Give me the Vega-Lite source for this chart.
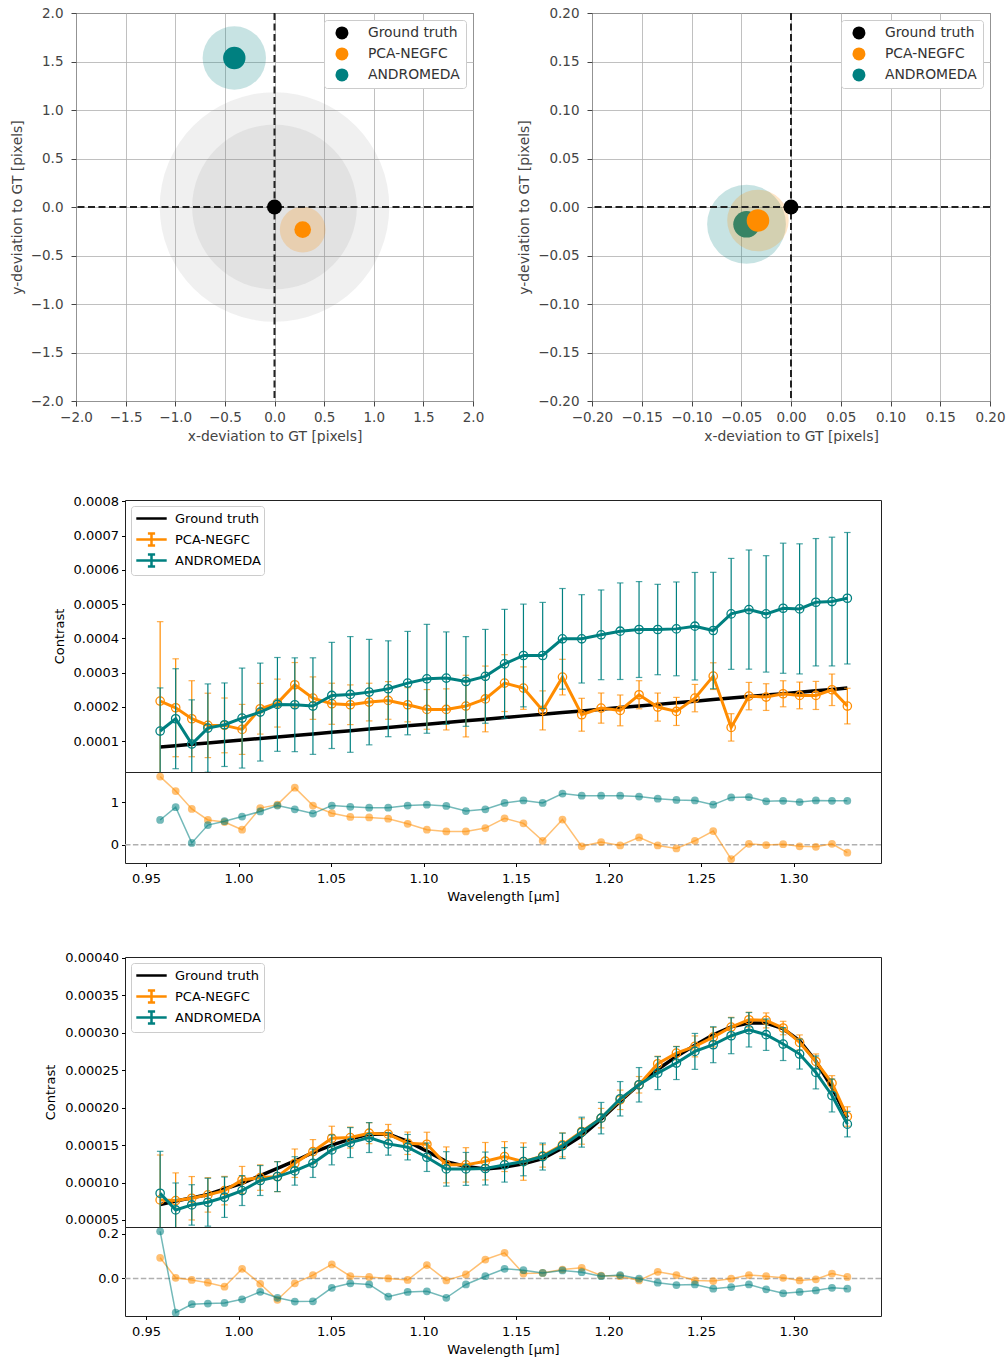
{
"$schema": "https://vega.github.io/schema/vega-lite/v6.json",
"padding": {"left": 6, "top": 5, "right": 0, "bottom": 0},
"background": "white",
"config": {
  "font": "DejaVu Sans",
  "axis": {"labelFont": "DejaVu Sans", "titleFont": "DejaVu Sans", "titleFontWeight": "normal", "domain": false, "grid": false, "tickSize": 3.5, "labelColor": "black", "titleColor": "black", "tickColor": "black", "labelFlush": false, "labelOverlap": false, "labelFontSize": 13, "titleFontSize": 13},
  "legend": {"labelFont": "DejaVu Sans"},
  "view": {"stroke": "#222"}
},
"datasets": {
  "keys": [{"method": "Ground truth"}, {"method": "PCA-NEGFC"}, {"method": "ANDROMEDA"}],
  "zero": [{"dx": 0, "dy": 0, "z": 0}],
  "gtDot": [{"method": "Ground truth", "dx": 0, "dy": 0}],
  "gtCircles": [{"dx": 0, "dy": 0, "r": 1.17}, {"dx": 0, "dy": 0, "r": 0.84}],
  "locWide": [
    {"method": "ANDROMEDA", "kind": "outer", "dx": -0.405, "dy": 1.536, "r": 0.323},
    {"method": "ANDROMEDA", "kind": "inner", "dx": -0.405, "dy": 1.536, "r": 0.114},
    {"method": "PCA-NEGFC", "kind": "outer", "dx": 0.284, "dy": -0.233, "r": 0.233},
    {"method": "PCA-NEGFC", "kind": "inner", "dx": 0.284, "dy": -0.233, "r": 0.085}
  ],
  "locZoom": [
    {"method": "ANDROMEDA", "kind": "outer", "dx": -0.0447, "dy": -0.0178, "r": 0.0401},
    {"method": "ANDROMEDA", "kind": "inner", "dx": -0.0447, "dy": -0.0178, "r": 0.0135},
    {"method": "PCA-NEGFC", "kind": "outer", "dx": -0.0332, "dy": -0.0139, "r": 0.0313},
    {"method": "PCA-NEGFC", "kind": "inner", "dx": -0.0332, "dy": -0.0139, "r": 0.0115}
  ],
  "lin": [
{"lam":0.9576,"gt":0.825e-4,"pca":2.167e-4,"pcaErr":2.32e-4,"andr":1.292e-4,"andrErr":1.26e-4,"rPca":1.60,"rAndr":0.58},
{"lam":0.9660,"gt":0.864e-4,"pca":1.972e-4,"pcaErr":1.43e-4,"andr":1.652e-4,"andrErr":1.46e-4,"rPca":1.26,"rAndr":0.88},
{"lam":0.9747,"gt":0.904e-4,"pca":1.652e-4,"pcaErr":1.11e-4,"andr":0.913e-4,"andrErr":1.29e-4,"rPca":0.84,"rAndr":0.04},
{"lam":0.9834,"gt":0.945e-4,"pca":1.457e-4,"pcaErr":0.94e-4,"andr":1.379e-4,"andrErr":1.29e-4,"rPca":0.58,"rAndr":0.46},
{"lam":0.9924,"gt":0.986e-4,"pca":1.457e-4,"pcaErr":0.80e-4,"andr":1.477e-4,"andrErr":1.22e-4,"rPca":0.53,"rAndr":0.55},
{"lam":1.0019,"gt":1.030e-4,"pca":1.340e-4,"pcaErr":0.73e-4,"andr":1.671e-4,"andrErr":1.46e-4,"rPca":0.35,"rAndr":0.66},
{"lam":1.0117,"gt":1.076e-4,"pca":1.943e-4,"pcaErr":0.74e-4,"andr":1.846e-4,"andrErr":1.43e-4,"rPca":0.86,"rAndr":0.78},
{"lam":1.0210,"gt":1.119e-4,"pca":2.109e-4,"pcaErr":0.70e-4,"andr":2.070e-4,"andrErr":1.37e-4,"rPca":0.94,"rAndr":0.92},
{"lam":1.0304,"gt":1.162e-4,"pca":2.643e-4,"pcaErr":0.65e-4,"andr":2.060e-4,"andrErr":1.37e-4,"rPca":1.34,"rAndr":0.83},
{"lam":1.0402,"gt":1.208e-4,"pca":2.254e-4,"pcaErr":0.62e-4,"andr":2.021e-4,"andrErr":1.41e-4,"rPca":0.92,"rAndr":0.73},
{"lam":1.0504,"gt":1.255e-4,"pca":2.089e-4,"pcaErr":0.60e-4,"andr":2.332e-4,"andrErr":1.55e-4,"rPca":0.74,"rAndr":0.92},
{"lam":1.0604,"gt":1.301e-4,"pca":2.060e-4,"pcaErr":0.58e-4,"andr":2.361e-4,"andrErr":1.69e-4,"rPca":0.65,"rAndr":0.89},
{"lam":1.0706,"gt":1.349e-4,"pca":2.138e-4,"pcaErr":0.55e-4,"andr":2.429e-4,"andrErr":1.54e-4,"rPca":0.64,"rAndr":0.87},
{"lam":1.0809,"gt":1.396e-4,"pca":2.186e-4,"pcaErr":0.55e-4,"andr":2.527e-4,"andrErr":1.40e-4,"rPca":0.61,"rAndr":0.87},
{"lam":1.0914,"gt":1.445e-4,"pca":2.060e-4,"pcaErr":0.50e-4,"andr":2.692e-4,"andrErr":1.51e-4,"rPca":0.49,"rAndr":0.92},
{"lam":1.1018,"gt":1.493e-4,"pca":1.924e-4,"pcaErr":0.58e-4,"andr":2.818e-4,"andrErr":1.59e-4,"rPca":0.35,"rAndr":0.94},
{"lam":1.1123,"gt":1.542e-4,"pca":1.924e-4,"pcaErr":0.60e-4,"andr":2.838e-4,"andrErr":1.35e-4,"rPca":0.31,"rAndr":0.91},
{"lam":1.1229,"gt":1.591e-4,"pca":2.021e-4,"pcaErr":0.90e-4,"andr":2.740e-4,"andrErr":1.31e-4,"rPca":0.31,"rAndr":0.79},
{"lam":1.1334,"gt":1.640e-4,"pca":2.230e-4,"pcaErr":0.96e-4,"andr":2.890e-4,"andrErr":1.37e-4,"rPca":0.39,"rAndr":0.83},
{"lam":1.1438,"gt":1.688e-4,"pca":2.692e-4,"pcaErr":0.83e-4,"andr":3.256e-4,"andrErr":1.59e-4,"rPca":0.62,"rAndr":0.98},
{"lam":1.1540,"gt":1.735e-4,"pca":2.546e-4,"pcaErr":0.62e-4,"andr":3.499e-4,"andrErr":1.50e-4,"rPca":0.50,"rAndr":1.04},
{"lam":1.1644,"gt":1.783e-4,"pca":1.895e-4,"pcaErr":0.57e-4,"andr":3.499e-4,"andrErr":1.55e-4,"rPca":0.09,"rAndr":0.98},
{"lam":1.1751,"gt":1.833e-4,"pca":2.867e-4,"pcaErr":0.52e-4,"andr":3.985e-4,"andrErr":1.47e-4,"rPca":0.59,"rAndr":1.20},
{"lam":1.1855,"gt":1.881e-4,"pca":1.768e-4,"pcaErr":0.48e-4,"andr":3.985e-4,"andrErr":1.29e-4,"rPca":-0.04,"rAndr":1.15},
{"lam":1.1960,"gt":1.930e-4,"pca":1.963e-4,"pcaErr":0.44e-4,"andr":4.102e-4,"andrErr":1.31e-4,"rPca":0.06,"rAndr":1.15},
{"lam":1.2063,"gt":1.977e-4,"pca":1.895e-4,"pcaErr":0.45e-4,"andr":4.208e-4,"andrErr":1.41e-4,"rPca":-0.02,"rAndr":1.15},
{"lam":1.2165,"gt":2.025e-4,"pca":2.352e-4,"pcaErr":0.41e-4,"andr":4.257e-4,"andrErr":1.40e-4,"rPca":0.17,"rAndr":1.13},
{"lam":1.2266,"gt":2.071e-4,"pca":1.992e-4,"pcaErr":0.41e-4,"andr":4.257e-4,"andrErr":1.32e-4,"rPca":-0.02,"rAndr":1.08},
{"lam":1.2367,"gt":2.118e-4,"pca":1.865e-4,"pcaErr":0.41e-4,"andr":4.276e-4,"andrErr":1.37e-4,"rPca":-0.09,"rAndr":1.05},
{"lam":1.2467,"gt":2.164e-4,"pca":2.254e-4,"pcaErr":0.40e-4,"andr":4.354e-4,"andrErr":1.57e-4,"rPca":0.09,"rAndr":1.04},
{"lam":1.2566,"gt":2.210e-4,"pca":2.896e-4,"pcaErr":0.39e-4,"andr":4.228e-4,"andrErr":1.70e-4,"rPca":0.32,"rAndr":0.94},
{"lam":1.2663,"gt":2.255e-4,"pca":1.399e-4,"pcaErr":0.40e-4,"andr":4.714e-4,"andrErr":1.62e-4,"rPca":-0.34,"rAndr":1.11},
{"lam":1.2759,"gt":2.300e-4,"pca":2.312e-4,"pcaErr":0.40e-4,"andr":4.840e-4,"andrErr":1.74e-4,"rPca":0.02,"rAndr":1.12},
{"lam":1.2852,"gt":2.343e-4,"pca":2.284e-4,"pcaErr":0.39e-4,"andr":4.714e-4,"andrErr":1.70e-4,"rPca":-0.01,"rAndr":1.02},
{"lam":1.2944,"gt":2.385e-4,"pca":2.381e-4,"pcaErr":0.38e-4,"andr":4.879e-4,"andrErr":1.90e-4,"rPca":0.01,"rAndr":1.03},
{"lam":1.3033,"gt":2.427e-4,"pca":2.332e-4,"pcaErr":0.39e-4,"andr":4.860e-4,"andrErr":1.90e-4,"rPca":-0.04,"rAndr":1.00},
{"lam":1.3121,"gt":2.467e-4,"pca":2.332e-4,"pcaErr":0.41e-4,"andr":5.054e-4,"andrErr":1.86e-4,"rPca":-0.05,"rAndr":1.04},
{"lam":1.3208,"gt":2.508e-4,"pca":2.497e-4,"pcaErr":0.46e-4,"andr":5.074e-4,"andrErr":1.88e-4,"rPca":0.02,"rAndr":1.03},
{"lam":1.3291,"gt":2.546e-4,"pca":2.021e-4,"pcaErr":0.52e-4,"andr":5.171e-4,"andrErr":1.92e-4,"rPca":-0.19,"rAndr":1.03}
  ],
  "bb": [
{"lam":0.9576,"gt":0.705e-4,"pca":0.768e-4,"pcaErr":0.60e-4,"andr":0.857e-4,"andrErr":0.56e-4,"rPca":0.093,"rAndr":0.212},
{"lam":0.9660,"gt":0.753e-4,"pca":0.759e-4,"pcaErr":0.37e-4,"andr":0.634e-4,"andrErr":0.36e-4,"rPca":0.003,"rAndr":-0.154},
{"lam":0.9747,"gt":0.795e-4,"pca":0.790e-4,"pcaErr":0.29e-4,"andr":0.701e-4,"andrErr":0.27e-4,"rPca":-0.007,"rAndr":-0.116},
{"lam":0.9834,"gt":0.840e-4,"pca":0.835e-4,"pcaErr":0.23e-4,"andr":0.737e-4,"andrErr":0.32e-4,"rPca":-0.019,"rAndr":-0.113},
{"lam":0.9924,"gt":0.915e-4,"pca":0.892e-4,"pcaErr":0.19e-4,"andr":0.804e-4,"andrErr":0.27e-4,"rPca":-0.037,"rAndr":-0.110},
{"lam":1.0019,"gt":0.990e-4,"pca":1.035e-4,"pcaErr":0.18e-4,"andr":0.893e-4,"andrErr":0.20e-4,"rPca":0.043,"rAndr":-0.094},
{"lam":1.0117,"gt":1.092e-4,"pca":1.066e-4,"pcaErr":0.17e-4,"andr":1.027e-4,"andrErr":0.20e-4,"rPca":-0.024,"rAndr":-0.060},
{"lam":1.0210,"gt":1.190e-4,"pca":1.079e-4,"pcaErr":0.20e-4,"andr":1.079e-4,"andrErr":0.20e-4,"rPca":-0.096,"rAndr":-0.087},
{"lam":1.0304,"gt":1.288e-4,"pca":1.258e-4,"pcaErr":0.19e-4,"andr":1.155e-4,"andrErr":0.19e-4,"rPca":-0.022,"rAndr":-0.104},
{"lam":1.0402,"gt":1.400e-4,"pca":1.414e-4,"pcaErr":0.16e-4,"andr":1.258e-4,"andrErr":0.19e-4,"rPca":0.015,"rAndr":-0.103},
{"lam":1.0504,"gt":1.500e-4,"pca":1.592e-4,"pcaErr":0.16e-4,"andr":1.436e-4,"andrErr":0.20e-4,"rPca":0.063,"rAndr":-0.042},
{"lam":1.0604,"gt":1.580e-4,"pca":1.601e-4,"pcaErr":0.14e-4,"andr":1.534e-4,"andrErr":0.20e-4,"rPca":0.010,"rAndr":-0.022},
{"lam":1.0706,"gt":1.646e-4,"pca":1.659e-4,"pcaErr":0.14e-4,"andr":1.601e-4,"andrErr":0.20e-4,"rPca":0.007,"rAndr":-0.027},
{"lam":1.0809,"gt":1.648e-4,"pca":1.646e-4,"pcaErr":0.13e-4,"andr":1.516e-4,"andrErr":0.15e-4,"rPca":0.000,"rAndr":-0.082},
{"lam":1.0914,"gt":1.550e-4,"pca":1.525e-4,"pcaErr":0.15e-4,"andr":1.472e-4,"andrErr":0.17e-4,"rPca":-0.007,"rAndr":-0.061},
{"lam":1.1018,"gt":1.420e-4,"pca":1.512e-4,"pcaErr":0.16e-4,"andr":1.338e-4,"andrErr":0.19e-4,"rPca":0.060,"rAndr":-0.058},
{"lam":1.1123,"gt":1.280e-4,"pca":1.236e-4,"pcaErr":0.24e-4,"andr":1.182e-4,"andrErr":0.23e-4,"rPca":-0.009,"rAndr":-0.087},
{"lam":1.1229,"gt":1.215e-4,"pca":1.236e-4,"pcaErr":0.23e-4,"andr":1.182e-4,"andrErr":0.22e-4,"rPca":0.018,"rAndr":-0.027},
{"lam":1.1334,"gt":1.180e-4,"pca":1.285e-4,"pcaErr":0.25e-4,"andr":1.187e-4,"andrErr":0.22e-4,"rPca":0.085,"rAndr":0.010},
{"lam":1.1438,"gt":1.205e-4,"pca":1.347e-4,"pcaErr":0.20e-4,"andr":1.236e-4,"andrErr":0.23e-4,"rPca":0.115,"rAndr":0.043},
{"lam":1.1540,"gt":1.250e-4,"pca":1.280e-4,"pcaErr":0.25e-4,"andr":1.280e-4,"andrErr":0.19e-4,"rPca":0.022,"rAndr":0.037},
{"lam":1.1644,"gt":1.320e-4,"pca":1.356e-4,"pcaErr":0.15e-4,"andr":1.347e-4,"andrErr":0.18e-4,"rPca":0.025,"rAndr":0.025},
{"lam":1.1751,"gt":1.460e-4,"pca":1.503e-4,"pcaErr":0.16e-4,"andr":1.490e-4,"andrErr":0.17e-4,"rPca":0.040,"rAndr":0.036},
{"lam":1.1855,"gt":1.625e-4,"pca":1.682e-4,"pcaErr":0.17e-4,"andr":1.673e-4,"andrErr":0.20e-4,"rPca":0.048,"rAndr":0.028},
{"lam":1.1960,"gt":1.845e-4,"pca":1.860e-4,"pcaErr":0.13e-4,"andr":1.860e-4,"andrErr":0.21e-4,"rPca":0.013,"rAndr":0.010},
{"lam":1.2063,"gt":2.085e-4,"pca":2.105e-4,"pcaErr":0.13e-4,"andr":2.119e-4,"andrErr":0.23e-4,"rPca":0.010,"rAndr":0.015},
{"lam":1.2165,"gt":2.310e-4,"pca":2.306e-4,"pcaErr":0.11e-4,"andr":2.306e-4,"andrErr":0.23e-4,"rPca":-0.009,"rAndr":-0.001},
{"lam":1.2266,"gt":2.510e-4,"pca":2.587e-4,"pcaErr":0.10e-4,"andr":2.462e-4,"andrErr":0.22e-4,"rPca":0.030,"rAndr":-0.019},
{"lam":1.2367,"gt":2.685e-4,"pca":2.729e-4,"pcaErr":0.09e-4,"andr":2.596e-4,"andrErr":0.22e-4,"rPca":0.015,"rAndr":-0.030},
{"lam":1.2467,"gt":2.835e-4,"pca":2.819e-4,"pcaErr":0.14e-4,"andr":2.752e-4,"andrErr":0.24e-4,"rPca":-0.009,"rAndr":-0.027},
{"lam":1.2566,"gt":2.975e-4,"pca":2.943e-4,"pcaErr":0.13e-4,"andr":2.841e-4,"andrErr":0.24e-4,"rPca":-0.012,"rAndr":-0.046},
{"lam":1.2663,"gt":3.080e-4,"pca":3.077e-4,"pcaErr":0.13e-4,"andr":2.961e-4,"andrErr":0.24e-4,"rPca":-0.001,"rAndr":-0.039},
{"lam":1.2759,"gt":3.130e-4,"pca":3.175e-4,"pcaErr":0.10e-4,"andr":3.041e-4,"andrErr":0.23e-4,"rPca":0.015,"rAndr":-0.027},
{"lam":1.2852,"gt":3.130e-4,"pca":3.166e-4,"pcaErr":0.10e-4,"andr":2.975e-4,"andrErr":0.21e-4,"rPca":0.010,"rAndr":-0.049},
{"lam":1.2944,"gt":3.055e-4,"pca":3.064e-4,"pcaErr":0.09e-4,"andr":2.850e-4,"andrErr":0.22e-4,"rPca":0.003,"rAndr":-0.067},
{"lam":1.3033,"gt":2.895e-4,"pca":2.872e-4,"pcaErr":0.10e-4,"andr":2.716e-4,"andrErr":0.20e-4,"rPca":-0.009,"rAndr":-0.061},
{"lam":1.3121,"gt":2.620e-4,"pca":2.618e-4,"pcaErr":0.10e-4,"andr":2.471e-4,"andrErr":0.22e-4,"rPca":-0.004,"rAndr":-0.054},
{"lam":1.3208,"gt":2.270e-4,"pca":2.328e-4,"pcaErr":0.10e-4,"andr":2.163e-4,"andrErr":0.22e-4,"rPca":0.022,"rAndr":-0.042},
{"lam":1.3291,"gt":1.867e-4,"pca":1.882e-4,"pcaErr":0.13e-4,"andr":1.780e-4,"andrErr":0.17e-4,"rPca":0.007,"rAndr":-0.046}
  ]
},
"spacing": 50,
"resolve": {"scale": {"color": "independent", "shape": "independent", "size": "independent", "opacity": "independent"}, "legend": {"color": "independent", "shape": "independent", "size": "independent", "opacity": "independent"}},
"vconcat": [
 {"resolve": {"scale": {"color": "independent", "shape": "independent", "size": "independent", "opacity": "independent"}, "legend": {"color": "independent", "shape": "independent", "size": "independent", "opacity": "independent"}},
  "hconcat": [
   {"width": 70, "height": 1, "view": {"stroke": null}, "data": {"values": []}, "mark": "point"},
   {"resolve": {"scale": {"color": "independent", "shape": "independent", "size": "independent", "opacity": "independent"}, "legend": {"color": "independent", "shape": "independent", "size": "independent", "opacity": "independent"}},
    "hconcat": [
     {"width": 397, "height": 388, "view": {"stroke": "#222"},
      "layer": [
        {"data": {"name": "gtCircles"},
         "mark": {"type": "point", "filled": true, "shape": "circle", "color": "#808080", "opacity": 0.12, "strokeWidth": 0},
         "encoding": {
           "x": {"field": "dx", "type": "quantitative", "title": "x-deviation to GT [pixels]", "scale": {"domain": [-2, 2], "nice": false, "zero": false},
                 "axis": {"values": [-2, -1.5, -1, -0.5, 0, 0.5, 1, 1.5, 2], "tickCount": 12, "format": ".1f", "title": "x-deviation to GT [pixels]", "grid": true, "gridColor": "#b0b0b0", "gridWidth": 0.8, "tickSize": 5, "labelPadding": 4, "titlePadding": 6, "labelFontSize": 13.5, "titleFontSize": 13.9, "labelColor": "#444", "titleColor": "#444", "tickColor": "#444", "labelOverlap": false}},
           "y": {"field": "dy", "type": "quantitative", "title": "y-deviation to GT [pixels]", "scale": {"domain": [-2, 2], "nice": false, "zero": false},
                 "axis": {"values": [-2, -1.5, -1, -0.5, 0, 0.5, 1, 1.5, 2], "tickCount": 12, "format": ".1f", "title": "y-deviation to GT [pixels]", "grid": true, "gridColor": "#b0b0b0", "gridWidth": 0.8, "tickSize": 5, "labelPadding": 8, "titlePadding": 6, "labelFontSize": 13.5, "titleFontSize": 13.9, "labelColor": "#444", "titleColor": "#444", "tickColor": "#444", "labelOverlap": false}},
           "size": {"field": "r", "type": "quantitative", "scale": {"type": "pow", "exponent": 2, "domain": [0, 1], "range": [0, 38494]}, "legend": null}}},
        {"data": {"name": "locWide"},
         "mark": {"type": "point", "filled": true, "shape": "circle", "strokeWidth": 0},
         "encoding": {
           "x": {"field": "dx", "type": "quantitative", "title": "x-deviation to GT [pixels]", "scale": {"domain": [-2, 2], "nice": false, "zero": false}},
           "y": {"field": "dy", "type": "quantitative", "title": "y-deviation to GT [pixels]", "scale": {"domain": [-2, 2], "nice": false, "zero": false}},
           "size": {"field": "r", "type": "quantitative", "scale": {"type": "pow", "exponent": 2, "domain": [0, 1], "range": [0, 38494]}, "legend": null},
           "opacity": {"field": "kind", "type": "nominal", "scale": {"type": "ordinal", "domain": ["outer", "inner"], "range": [0.22, 1]}, "legend": null},
           "color": {"field": "method", "type": "nominal", "scale": {"domain": ["Ground truth", "PCA-NEGFC", "ANDROMEDA"], "range": ["#000000", "#ff8c00", "#008080"]},
                     "legend": {"title": null, "orient": "top-right", "offset": 7, "padding": 6, "symbolType": "circle", "symbolSize": 169, "symbolOpacity": 1, "symbolStrokeWidth": 0, "symbolOffset": 5, "labelOffset": 19, "labelFontSize": 13.9, "labelColor": "#333", "rowPadding": 6, "strokeColor": "#cccccc", "fillColor": "#ffffff", "cornerRadius": 3}}}},
        {"data": {"name": "zero"}, "mark": {"type": "rule", "color": "#222", "strokeWidth": 2, "strokeDash": [7, 3.5]},
         "encoding": {"x": {"field": "dx", "type": "quantitative", "title": "x-deviation to GT [pixels]", "scale": {"domain": [-2, 2], "nice": false, "zero": false}}}},
        {"data": {"name": "zero"}, "mark": {"type": "rule", "color": "#222", "strokeWidth": 2, "strokeDash": [7, 3.5]},
         "encoding": {"y": {"field": "dy", "type": "quantitative", "title": "y-deviation to GT [pixels]", "scale": {"domain": [-2, 2], "nice": false, "zero": false}}}},
        {"data": {"name": "gtDot"},
         "mark": {"type": "point", "filled": true, "shape": "circle", "size": 225, "opacity": 1, "strokeWidth": 0},
         "encoding": {
           "x": {"field": "dx", "type": "quantitative", "title": "x-deviation to GT [pixels]", "scale": {"domain": [-2, 2], "nice": false, "zero": false}},
           "y": {"field": "dy", "type": "quantitative", "title": "y-deviation to GT [pixels]", "scale": {"domain": [-2, 2], "nice": false, "zero": false}},
           "color": {"field": "method", "type": "nominal", "scale": {"domain": ["Ground truth", "PCA-NEGFC", "ANDROMEDA"], "range": ["#000000", "#ff8c00", "#008080"]},
                     "legend": {"title": null, "orient": "top-right", "offset": 7, "padding": 6, "symbolType": "circle", "symbolSize": 169, "symbolOpacity": 1, "symbolStrokeWidth": 0, "symbolOffset": 5, "labelOffset": 19, "labelFontSize": 13.9, "labelColor": "#333", "rowPadding": 6, "strokeColor": "#cccccc", "fillColor": "#ffffff", "cornerRadius": 3}}}}
      ]},
     {"width": 398, "height": 388, "view": {"stroke": "#222"},
      "layer": [
        {"data": {"name": "locZoom"},
         "mark": {"type": "point", "filled": true, "shape": "circle", "strokeWidth": 0},
         "encoding": {
           "x": {"field": "dx", "type": "quantitative", "title": "x-deviation to GT [pixels]", "scale": {"domain": [-0.2, 0.2], "nice": false, "zero": false},
                 "axis": {"values": [-0.2, -0.15, -0.1, -0.05, 0, 0.05, 0.1, 0.15, 0.2], "tickCount": 12, "format": ".2f", "title": "x-deviation to GT [pixels]", "grid": true, "gridColor": "#b0b0b0", "gridWidth": 0.8, "tickSize": 5, "labelPadding": 4, "titlePadding": 6, "labelFontSize": 13.5, "titleFontSize": 13.9, "labelColor": "#444", "titleColor": "#444", "tickColor": "#444", "labelOverlap": false}},
           "y": {"field": "dy", "type": "quantitative", "title": "y-deviation to GT [pixels]", "scale": {"domain": [-0.2, 0.2], "nice": false, "zero": false},
                 "axis": {"values": [-0.2, -0.15, -0.1, -0.05, 0, 0.05, 0.1, 0.15, 0.2], "tickCount": 12, "format": ".2f", "title": "y-deviation to GT [pixels]", "grid": true, "gridColor": "#b0b0b0", "gridWidth": 0.8, "tickSize": 5, "labelPadding": 8, "titlePadding": 6, "labelFontSize": 13.5, "titleFontSize": 13.9, "labelColor": "#444", "titleColor": "#444", "tickColor": "#444", "labelOverlap": false}},
           "size": {"field": "r", "type": "quantitative", "scale": {"type": "pow", "exponent": 2, "domain": [0, 0.1], "range": [0, 38612]}, "legend": null},
           "opacity": {"field": "kind", "type": "nominal", "scale": {"type": "ordinal", "domain": ["outer", "inner"], "range": [0.22, 1]}, "legend": null},
           "color": {"field": "method", "type": "nominal", "scale": {"domain": ["Ground truth", "PCA-NEGFC", "ANDROMEDA"], "range": ["#000000", "#ff8c00", "#008080"]},
                     "legend": {"title": null, "orient": "top-right", "offset": 7, "padding": 6, "symbolType": "circle", "symbolSize": 169, "symbolOpacity": 1, "symbolStrokeWidth": 0, "symbolOffset": 5, "labelOffset": 19, "labelFontSize": 13.9, "labelColor": "#333", "rowPadding": 6, "strokeColor": "#cccccc", "fillColor": "#ffffff", "cornerRadius": 3}}}},
        {"data": {"name": "zero"}, "mark": {"type": "rule", "color": "#222", "strokeWidth": 2, "strokeDash": [7, 3.5]},
         "encoding": {"x": {"field": "dx", "type": "quantitative", "title": "x-deviation to GT [pixels]", "scale": {"domain": [-0.2, 0.2], "nice": false, "zero": false}}}},
        {"data": {"name": "zero"}, "mark": {"type": "rule", "color": "#222", "strokeWidth": 2, "strokeDash": [7, 3.5]},
         "encoding": {"y": {"field": "dy", "type": "quantitative", "title": "y-deviation to GT [pixels]", "scale": {"domain": [-0.2, 0.2], "nice": false, "zero": false}}}},
        {"data": {"name": "gtDot"},
         "mark": {"type": "point", "filled": true, "shape": "circle", "size": 225, "opacity": 1, "strokeWidth": 0},
         "encoding": {
           "x": {"field": "dx", "type": "quantitative", "title": "x-deviation to GT [pixels]", "scale": {"domain": [-0.2, 0.2], "nice": false, "zero": false}},
           "y": {"field": "dy", "type": "quantitative", "title": "y-deviation to GT [pixels]", "scale": {"domain": [-0.2, 0.2], "nice": false, "zero": false}},
           "color": {"field": "method", "type": "nominal", "scale": {"domain": ["Ground truth", "PCA-NEGFC", "ANDROMEDA"], "range": ["#000000", "#ff8c00", "#008080"]},
                     "legend": {"title": null, "orient": "top-right", "offset": 7, "padding": 6, "symbolType": "circle", "symbolSize": 169, "symbolOpacity": 1, "symbolStrokeWidth": 0, "symbolOffset": 5, "labelOffset": 19, "labelFontSize": 13.9, "labelColor": "#333", "rowPadding": 6, "strokeColor": "#cccccc", "fillColor": "#ffffff", "cornerRadius": 3}}}}
      ]}
   ], "spacing": 119, "bounds": "flush"}
 ], "spacing": 0, "bounds": "flush"},
 {"spacing": 47,
  "resolve": {"scale": {"color": "independent", "shape": "independent", "size": "independent", "opacity": "independent"}, "legend": {"color": "independent", "shape": "independent", "size": "independent", "opacity": "independent"}},
  "vconcat": [
   {"resolve": {"scale": {"color": "independent", "shape": "independent", "size": "independent", "opacity": "independent"}, "legend": {"color": "independent", "shape": "independent", "size": "independent", "opacity": "independent"}},
    "hconcat": [
     {"width": 119, "height": 1, "view": {"stroke": null}, "data": {"values": []}, "mark": "point"},
     {"resolve": {"scale": {"color": "independent", "shape": "independent", "size": "independent", "opacity": "independent"}, "legend": {"color": "independent", "shape": "independent", "size": "independent", "opacity": "independent"}},
      "vconcat": [
       {"width": 756, "height": 272, "view": {"stroke": "#222"},
        "data": {"name": "lin"},
        "encoding": {"x": {"field": "lam", "type": "quantitative", "scale": {"domain": [0.9386, 1.3473], "nice": false, "zero": false}, "axis": null}},
        "layer": [
          {"data": {"name": "keys"},
           "mark": {"type": "point", "filled": false, "opacity": 0},
           "encoding": {
             "color": {"field": "method", "type": "nominal", "scale": {"domain": ["Ground truth", "PCA-NEGFC", "ANDROMEDA"], "range": ["#000000", "#ff8c00", "#008080"]},
                       "legend": {"title": null, "orient": "top-left", "offset": 6, "padding": 3, "symbolSize": 256, "symbolStrokeWidth": 2.5, "symbolOpacity": 1, "symbolOffset": 8, "labelOffset": 14, "labelFontSize": 13, "labelColor": "black", "rowPadding": -5, "strokeColor": "#cccccc", "fillColor": "#ffffff", "cornerRadius": 3}},
             "shape": {"field": "method", "type": "nominal", "scale": {"domain": ["Ground truth", "PCA-NEGFC", "ANDROMEDA"], "range": ["M-1.9,-0.75M-1.9,0.75M-1.9,0H1.9", "M-1.9,0H1.9M0,-0.75V0.75M-0.45,-0.75H0.45M-0.45,0.75H0.45", "M-1.9,0H1.9M0,-0.75V0.75M-0.45,-0.75H0.45M-0.45,0.75H0.45"]},
                       "legend": {"title": null, "orient": "top-left", "offset": 6, "padding": 3, "symbolSize": 256, "symbolStrokeWidth": 2.5, "symbolOpacity": 1, "symbolOffset": 8, "labelOffset": 14, "labelFontSize": 13, "labelColor": "black", "rowPadding": -5, "strokeColor": "#cccccc", "fillColor": "#ffffff", "cornerRadius": 3}}}},
          {"mark": {"type": "line", "strokeWidth": 3.5, "clip": true},
           "encoding": {"y": {"field": "gt", "type": "quantitative", "title": "Contrast", "scale": {"domain": [0.0000096, 0.000804], "nice": false, "zero": false},
                              "axis": {"values": [0.0001, 0.0002, 0.0003, 0.0004, 0.0005, 0.0006, 0.0007, 0.0008], "tickCount": 10, "format": ".4f", "title": "Contrast", "labelPadding": 3, "titlePadding": 7, "labelOverlap": false}},
                        "color": {"datum": "Ground truth", "scale": {"domain": ["Ground truth", "PCA-NEGFC", "ANDROMEDA"], "range": ["#000000", "#ff8c00", "#008080"]}, "legend": null}}},
          {"mark": {"type": "errorbar", "ticks": {"size": 6.5, "thickness": 1.2}, "thickness": 1.2, "clip": true},
           "encoding": {"y": {"field": "pca", "type": "quantitative", "title": "Contrast", "scale": {"domain": [0.0000096, 0.000804], "nice": false, "zero": false}},
                        "yError": {"field": "pcaErr"},
                        "color": {"datum": "PCA-NEGFC", "scale": {"domain": ["Ground truth", "PCA-NEGFC", "ANDROMEDA"], "range": ["#000000", "#ff8c00", "#008080"]}, "legend": null}}},
          {"mark": {"type": "line", "strokeWidth": 3, "clip": true},
           "encoding": {"y": {"field": "pca", "type": "quantitative", "title": "Contrast", "scale": {"domain": [0.0000096, 0.000804], "nice": false, "zero": false}},
                        "color": {"datum": "PCA-NEGFC", "scale": {"domain": ["Ground truth", "PCA-NEGFC", "ANDROMEDA"], "range": ["#000000", "#ff8c00", "#008080"]}, "legend": null}}},
          {"mark": {"type": "point", "filled": false, "size": 70, "strokeWidth": 1.3, "opacity": 1, "clip": true},
           "encoding": {"y": {"field": "pca", "type": "quantitative", "title": "Contrast", "scale": {"domain": [0.0000096, 0.000804], "nice": false, "zero": false}},
                        "color": {"datum": "PCA-NEGFC", "scale": {"domain": ["Ground truth", "PCA-NEGFC", "ANDROMEDA"], "range": ["#000000", "#ff8c00", "#008080"]}, "legend": null}}},
          {"mark": {"type": "errorbar", "ticks": {"size": 6.5, "thickness": 1.2}, "thickness": 1.2, "clip": true},
           "encoding": {"y": {"field": "andr", "type": "quantitative", "title": "Contrast", "scale": {"domain": [0.0000096, 0.000804], "nice": false, "zero": false}},
                        "yError": {"field": "andrErr"},
                        "color": {"datum": "ANDROMEDA", "scale": {"domain": ["Ground truth", "PCA-NEGFC", "ANDROMEDA"], "range": ["#000000", "#ff8c00", "#008080"]}, "legend": null}}},
          {"mark": {"type": "line", "strokeWidth": 3, "clip": true},
           "encoding": {"y": {"field": "andr", "type": "quantitative", "title": "Contrast", "scale": {"domain": [0.0000096, 0.000804], "nice": false, "zero": false}},
                        "color": {"datum": "ANDROMEDA", "scale": {"domain": ["Ground truth", "PCA-NEGFC", "ANDROMEDA"], "range": ["#000000", "#ff8c00", "#008080"]}, "legend": null}}},
          {"mark": {"type": "point", "filled": false, "size": 70, "strokeWidth": 1.3, "opacity": 1, "clip": true},
           "encoding": {"y": {"field": "andr", "type": "quantitative", "title": "Contrast", "scale": {"domain": [0.0000096, 0.000804], "nice": false, "zero": false}},
                        "color": {"datum": "ANDROMEDA", "scale": {"domain": ["Ground truth", "PCA-NEGFC", "ANDROMEDA"], "range": ["#000000", "#ff8c00", "#008080"]}, "legend": null}}}
        ]},
       {"width": 756, "height": 91, "view": {"stroke": "#222"},
        "data": {"name": "lin"},
        "layer": [
          {"data": {"name": "zero"}, "mark": {"type": "rule", "color": "#b0b0b0", "strokeWidth": 1.5, "strokeDash": [5.5, 2.4]},
           "encoding": {"y": {"field": "z", "type": "quantitative", "title": null, "scale": {"domain": [-0.432, 1.708], "nice": false, "zero": false}}}},
          {"mark": {"type": "line", "strokeWidth": 1.5, "opacity": 0.55},
           "encoding": {"x": {"field": "lam", "type": "quantitative", "title": "Wavelength [μm]", "scale": {"domain": [0.9386, 1.3473], "nice": false, "zero": false},
                              "axis": {"values": [0.95, 1.0, 1.05, 1.1, 1.15, 1.2, 1.25, 1.3], "tickCount": 20, "format": ".2f", "title": "Wavelength [μm]", "labelPadding": 6, "titlePadding": 5, "labelOverlap": false}},
                        "y": {"field": "rPca", "type": "quantitative", "title": null, "scale": {"domain": [-0.432, 1.708], "nice": false, "zero": false},
                              "axis": {"values": [0, 1], "tickCount": 5, "format": ".0f", "title": null, "labelPadding": 3, "labelOverlap": false}},
                        "color": {"datum": "PCA-NEGFC", "scale": {"domain": ["PCA-NEGFC", "ANDROMEDA"], "range": ["#ff8c00", "#008080"]}, "legend": null}}},
          {"mark": {"type": "point", "filled": true, "size": 60, "opacity": 0.55},
           "encoding": {"x": {"field": "lam", "type": "quantitative", "title": "Wavelength [μm]", "scale": {"domain": [0.9386, 1.3473], "nice": false, "zero": false}},
                        "y": {"field": "rPca", "type": "quantitative", "title": null, "scale": {"domain": [-0.432, 1.708], "nice": false, "zero": false}},
                        "color": {"datum": "PCA-NEGFC", "scale": {"domain": ["PCA-NEGFC", "ANDROMEDA"], "range": ["#ff8c00", "#008080"]}, "legend": null}}},
          {"mark": {"type": "line", "strokeWidth": 1.5, "opacity": 0.55},
           "encoding": {"x": {"field": "lam", "type": "quantitative", "title": "Wavelength [μm]", "scale": {"domain": [0.9386, 1.3473], "nice": false, "zero": false}},
                        "y": {"field": "rAndr", "type": "quantitative", "title": null, "scale": {"domain": [-0.432, 1.708], "nice": false, "zero": false}},
                        "color": {"datum": "ANDROMEDA", "scale": {"domain": ["PCA-NEGFC", "ANDROMEDA"], "range": ["#ff8c00", "#008080"]}, "legend": null}}},
          {"mark": {"type": "point", "filled": true, "size": 60, "opacity": 0.55},
           "encoding": {"x": {"field": "lam", "type": "quantitative", "title": "Wavelength [μm]", "scale": {"domain": [0.9386, 1.3473], "nice": false, "zero": false}},
                        "y": {"field": "rAndr", "type": "quantitative", "title": null, "scale": {"domain": [-0.432, 1.708], "nice": false, "zero": false}},
                        "color": {"datum": "ANDROMEDA", "scale": {"domain": ["PCA-NEGFC", "ANDROMEDA"], "range": ["#ff8c00", "#008080"]}, "legend": null}}}
        ]}
     ], "spacing": 0, "bounds": "flush"}
   ], "spacing": 0, "bounds": "flush"},
   {"resolve": {"scale": {"color": "independent", "shape": "independent", "size": "independent", "opacity": "independent"}, "legend": {"color": "independent", "shape": "independent", "size": "independent", "opacity": "independent"}},
    "hconcat": [
     {"width": 119, "height": 1, "view": {"stroke": null}, "data": {"values": []}, "mark": "point"},
     {"resolve": {"scale": {"color": "independent", "shape": "independent", "size": "independent", "opacity": "independent"}, "legend": {"color": "independent", "shape": "independent", "size": "independent", "opacity": "independent"}},
      "vconcat": [
       {"width": 756, "height": 270, "view": {"stroke": "#222"},
        "data": {"name": "bb"},
        "encoding": {"x": {"field": "lam", "type": "quantitative", "scale": {"domain": [0.9386, 1.3473], "nice": false, "zero": false}, "axis": null}},
        "layer": [
          {"data": {"name": "keys"},
           "mark": {"type": "point", "filled": false, "opacity": 0},
           "encoding": {
             "color": {"field": "method", "type": "nominal", "scale": {"domain": ["Ground truth", "PCA-NEGFC", "ANDROMEDA"], "range": ["#000000", "#ff8c00", "#008080"]},
                       "legend": {"title": null, "orient": "top-left", "offset": 6, "padding": 3, "symbolSize": 256, "symbolStrokeWidth": 2.5, "symbolOpacity": 1, "symbolOffset": 8, "labelOffset": 14, "labelFontSize": 13, "labelColor": "black", "rowPadding": -5, "strokeColor": "#cccccc", "fillColor": "#ffffff", "cornerRadius": 3}},
             "shape": {"field": "method", "type": "nominal", "scale": {"domain": ["Ground truth", "PCA-NEGFC", "ANDROMEDA"], "range": ["M-1.9,-0.75M-1.9,0.75M-1.9,0H1.9", "M-1.9,0H1.9M0,-0.75V0.75M-0.45,-0.75H0.45M-0.45,0.75H0.45", "M-1.9,0H1.9M0,-0.75V0.75M-0.45,-0.75H0.45M-0.45,0.75H0.45"]},
                       "legend": {"title": null, "orient": "top-left", "offset": 6, "padding": 3, "symbolSize": 256, "symbolStrokeWidth": 2.5, "symbolOpacity": 1, "symbolOffset": 8, "labelOffset": 14, "labelFontSize": 13, "labelColor": "black", "rowPadding": -5, "strokeColor": "#cccccc", "fillColor": "#ffffff", "cornerRadius": 3}}}},
          {"mark": {"type": "line", "strokeWidth": 3.5, "clip": true},
           "encoding": {"y": {"field": "gt", "type": "quantitative", "title": "Contrast", "scale": {"domain": [0.0000406, 0.0004013], "nice": false, "zero": false},
                              "axis": {"values": [0.00005, 0.0001, 0.00015, 0.0002, 0.00025, 0.0003, 0.00035, 0.0004], "tickCount": 10, "format": ".5f", "title": "Contrast", "labelPadding": 3, "titlePadding": 7, "labelOverlap": false}},
                        "color": {"datum": "Ground truth", "scale": {"domain": ["Ground truth", "PCA-NEGFC", "ANDROMEDA"], "range": ["#000000", "#ff8c00", "#008080"]}, "legend": null}}},
          {"mark": {"type": "errorbar", "ticks": {"size": 6.5, "thickness": 1.2}, "thickness": 1.2, "clip": true},
           "encoding": {"y": {"field": "pca", "type": "quantitative", "title": "Contrast", "scale": {"domain": [0.0000406, 0.0004013], "nice": false, "zero": false}},
                        "yError": {"field": "pcaErr"},
                        "color": {"datum": "PCA-NEGFC", "scale": {"domain": ["Ground truth", "PCA-NEGFC", "ANDROMEDA"], "range": ["#000000", "#ff8c00", "#008080"]}, "legend": null}}},
          {"mark": {"type": "line", "strokeWidth": 3, "clip": true},
           "encoding": {"y": {"field": "pca", "type": "quantitative", "title": "Contrast", "scale": {"domain": [0.0000406, 0.0004013], "nice": false, "zero": false}},
                        "color": {"datum": "PCA-NEGFC", "scale": {"domain": ["Ground truth", "PCA-NEGFC", "ANDROMEDA"], "range": ["#000000", "#ff8c00", "#008080"]}, "legend": null}}},
          {"mark": {"type": "point", "filled": false, "size": 70, "strokeWidth": 1.3, "opacity": 1, "clip": true},
           "encoding": {"y": {"field": "pca", "type": "quantitative", "title": "Contrast", "scale": {"domain": [0.0000406, 0.0004013], "nice": false, "zero": false}},
                        "color": {"datum": "PCA-NEGFC", "scale": {"domain": ["Ground truth", "PCA-NEGFC", "ANDROMEDA"], "range": ["#000000", "#ff8c00", "#008080"]}, "legend": null}}},
          {"mark": {"type": "errorbar", "ticks": {"size": 6.5, "thickness": 1.2}, "thickness": 1.2, "clip": true},
           "encoding": {"y": {"field": "andr", "type": "quantitative", "title": "Contrast", "scale": {"domain": [0.0000406, 0.0004013], "nice": false, "zero": false}},
                        "yError": {"field": "andrErr"},
                        "color": {"datum": "ANDROMEDA", "scale": {"domain": ["Ground truth", "PCA-NEGFC", "ANDROMEDA"], "range": ["#000000", "#ff8c00", "#008080"]}, "legend": null}}},
          {"mark": {"type": "line", "strokeWidth": 3, "clip": true},
           "encoding": {"y": {"field": "andr", "type": "quantitative", "title": "Contrast", "scale": {"domain": [0.0000406, 0.0004013], "nice": false, "zero": false}},
                        "color": {"datum": "ANDROMEDA", "scale": {"domain": ["Ground truth", "PCA-NEGFC", "ANDROMEDA"], "range": ["#000000", "#ff8c00", "#008080"]}, "legend": null}}},
          {"mark": {"type": "point", "filled": false, "size": 70, "strokeWidth": 1.3, "opacity": 1, "clip": true},
           "encoding": {"y": {"field": "andr", "type": "quantitative", "title": "Contrast", "scale": {"domain": [0.0000406, 0.0004013], "nice": false, "zero": false}},
                        "color": {"datum": "ANDROMEDA", "scale": {"domain": ["Ground truth", "PCA-NEGFC", "ANDROMEDA"], "range": ["#000000", "#ff8c00", "#008080"]}, "legend": null}}}
        ]},
       {"width": 756, "height": 89, "view": {"stroke": "#222"},
        "data": {"name": "bb"},
        "layer": [
          {"data": {"name": "zero"}, "mark": {"type": "rule", "color": "#b0b0b0", "strokeWidth": 1.5, "strokeDash": [5.5, 2.4]},
           "encoding": {"y": {"field": "z", "type": "quantitative", "title": null, "scale": {"domain": [-0.169, 0.2314], "nice": false, "zero": false}}}},
          {"mark": {"type": "line", "strokeWidth": 1.5, "opacity": 0.55},
           "encoding": {"x": {"field": "lam", "type": "quantitative", "title": "Wavelength [μm]", "scale": {"domain": [0.9386, 1.3473], "nice": false, "zero": false},
                              "axis": {"values": [0.95, 1.0, 1.05, 1.1, 1.15, 1.2, 1.25, 1.3], "tickCount": 20, "format": ".2f", "title": "Wavelength [μm]", "labelPadding": 6, "titlePadding": 5, "labelOverlap": false}},
                        "y": {"field": "rPca", "type": "quantitative", "title": null, "scale": {"domain": [-0.169, 0.2314], "nice": false, "zero": false},
                              "axis": {"values": [0, 0.2], "tickCount": 5, "format": ".1f", "title": null, "labelPadding": 3, "labelOverlap": false}},
                        "color": {"datum": "PCA-NEGFC", "scale": {"domain": ["PCA-NEGFC", "ANDROMEDA"], "range": ["#ff8c00", "#008080"]}, "legend": null}}},
          {"mark": {"type": "point", "filled": true, "size": 60, "opacity": 0.55},
           "encoding": {"x": {"field": "lam", "type": "quantitative", "title": "Wavelength [μm]", "scale": {"domain": [0.9386, 1.3473], "nice": false, "zero": false}},
                        "y": {"field": "rPca", "type": "quantitative", "title": null, "scale": {"domain": [-0.169, 0.2314], "nice": false, "zero": false}},
                        "color": {"datum": "PCA-NEGFC", "scale": {"domain": ["PCA-NEGFC", "ANDROMEDA"], "range": ["#ff8c00", "#008080"]}, "legend": null}}},
          {"mark": {"type": "line", "strokeWidth": 1.5, "opacity": 0.55},
           "encoding": {"x": {"field": "lam", "type": "quantitative", "title": "Wavelength [μm]", "scale": {"domain": [0.9386, 1.3473], "nice": false, "zero": false}},
                        "y": {"field": "rAndr", "type": "quantitative", "title": null, "scale": {"domain": [-0.169, 0.2314], "nice": false, "zero": false}},
                        "color": {"datum": "ANDROMEDA", "scale": {"domain": ["PCA-NEGFC", "ANDROMEDA"], "range": ["#ff8c00", "#008080"]}, "legend": null}}},
          {"mark": {"type": "point", "filled": true, "size": 60, "opacity": 0.55},
           "encoding": {"x": {"field": "lam", "type": "quantitative", "title": "Wavelength [μm]", "scale": {"domain": [0.9386, 1.3473], "nice": false, "zero": false}},
                        "y": {"field": "rAndr", "type": "quantitative", "title": null, "scale": {"domain": [-0.169, 0.2314], "nice": false, "zero": false}},
                        "color": {"datum": "ANDROMEDA", "scale": {"domain": ["PCA-NEGFC", "ANDROMEDA"], "range": ["#ff8c00", "#008080"]}, "legend": null}}}
        ]}
     ], "spacing": 0, "bounds": "flush"}
   ], "spacing": 0, "bounds": "flush"}
  ]}
]
}
